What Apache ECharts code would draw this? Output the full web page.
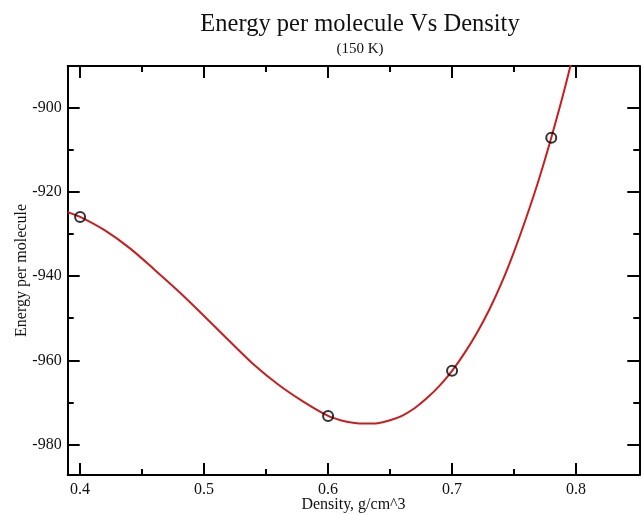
<!DOCTYPE html>
<html>
<head>
<meta charset="utf-8">
<script src="https://cdn.jsdelivr.net/npm/echarts@6/dist/echarts.min.js"></script>
<style>
html,body{margin:0;padding:0;background:#fff;}
#chart{width:641px;height:514px;}
</style>
</head>
<body>
<div id="chart"></div>
<script>
// Measured data points (circles)
var pointDensity = [0.4, 0.6, 0.7, 0.78];
var pointEnergy = [-926.0, -973.2, -962.5, -907.2];

// Fitted curve
var curveDensity = [0.39, 0.40, 0.42, 0.44, 0.46, 0.48, 0.50, 0.52, 0.54, 0.56, 0.58, 0.60, 0.61, 0.62, 0.63, 0.64, 0.65, 0.66, 0.67, 0.68, 0.69, 0.70, 0.71, 0.72, 0.73, 0.74, 0.75, 0.76, 0.77, 0.78, 0.79, 0.80];
var curveEnergy = [-924.9, -926.0, -929.2, -933.4, -938.5, -943.8, -949.5, -955.3, -961.0, -965.8, -969.8, -973.2, -974.2, -974.8, -975.0, -974.9, -974.2, -973.1, -971.3, -968.9, -966.0, -962.5, -958.3, -953.5, -948.0, -941.6, -934.2, -926.0, -917.1, -907.2, -896.5, -884.8];

// Tick values
var xMajorTicks = [0.4, 0.5, 0.6, 0.7, 0.8];
var xMinorTicks = [0.45, 0.55, 0.65, 0.75];
var yMajorTicks = [-980, -960, -940, -920, -900];
var yMinorTicks = [-970, -950, -930, -910];

var titleText = 'Energy per molecule Vs Density';
var subtitleText = '(150 K)';
var xName = 'Density, g/cm^3';
var yName = 'Energy per molecule';

var FONT = 'Liberation Serif, Times New Roman, serif';
var X_MIN = 0.39, X_MAX = 0.851, Y_MIN = -987.2, Y_MAX = -890.2;

function zip(a, b) { return a.map(function (v, i) { return [v, b[i]]; }); }

function xAxisDef(position, ticks, len, withLine, withLabel) {
  return {
    type: 'value', position: position, min: X_MIN, max: X_MAX,
    axisLine: { show: withLine, onZero: false, lineStyle: { color: '#000', width: 2 } },
    axisTick: { show: true, inside: true, length: len, customValues: ticks, lineStyle: { color: '#000', width: 2 } },
    axisLabel: withLabel ? { show: true, customValues: ticks, margin: 7, fontFamily: FONT, fontSize: 16, color: '#111',
      formatter: function (v) { return v.toFixed(1); } } : { show: false },
    splitLine: { show: false },
    name: withLabel ? xName : '', nameLocation: 'middle', nameGap: 22, nameMoveOverlap: false,
    nameTextStyle: { fontFamily: FONT, fontSize: 16, color: '#111' }
  };
}
function yAxisDef(position, ticks, len, withLine, withLabel) {
  return {
    type: 'value', position: position, min: Y_MIN, max: Y_MAX,
    axisLine: { show: withLine, onZero: false, lineStyle: { color: '#000', width: 2 } },
    axisTick: { show: true, inside: true, length: len, customValues: ticks, lineStyle: { color: '#000', width: 2 } },
    axisLabel: withLabel ? { show: true, customValues: ticks, margin: 6, fontFamily: FONT, fontSize: 16, color: '#111' } : { show: false },
    splitLine: { show: false },
    name: withLabel ? yName : '', nameLocation: 'middle', nameGap: 38, nameMoveOverlap: false,
    nameTextStyle: { fontFamily: FONT, fontSize: 16, color: '#111' }
  };
}

var chart = echarts.init(document.getElementById('chart'), null, { renderer: 'canvas' });
chart.setOption({
  animation: false,
  backgroundColor: '#fff',
  title: [
    { text: titleText, left: 355, top: 7, textAlign: 'center',
      textStyle: { fontFamily: FONT, fontSize: 24.5, fontWeight: 'normal', color: '#111' } },
    { text: subtitleText, left: 355, top: 37, textAlign: 'center',
      textStyle: { fontFamily: FONT, fontSize: 15, fontWeight: 'normal', color: '#111' } }
  ],
  grid: { left: 67.7, right: 1.7, top: 66, bottom: 39, containLabel: false, outerBoundsMode: 'none' },
  xAxis: [
    xAxisDef('bottom', xMajorTicks, 12, true, true),
    xAxisDef('bottom', xMinorTicks, 6, false, false),
    xAxisDef('top', xMajorTicks, 12, true, false),
    xAxisDef('top', xMinorTicks, 6, false, false)
  ],
  yAxis: [
    yAxisDef('left', yMajorTicks, 12, true, true),
    yAxisDef('left', yMinorTicks, 6, false, false),
    yAxisDef('right', yMajorTicks, 12, true, false),
    yAxisDef('right', yMinorTicks, 6, false, false)
  ],
  series: [
    { type: 'line', xAxisIndex: 0, yAxisIndex: 0, data: zip(curveDensity, curveEnergy),
      showSymbol: false, smooth: 0.3, clip: true,
      lineStyle: { color: '#c81e1e', width: 2 }, z: 2 },
    { type: 'scatter', xAxisIndex: 0, yAxisIndex: 0, data: zip(pointDensity, pointEnergy),
      symbol: 'circle', symbolSize: 10,
      itemStyle: { color: 'rgba(0,0,0,0)', borderColor: '#000', borderWidth: 2 }, z: 3 }
  ]
});
</script>
</body>
</html>
